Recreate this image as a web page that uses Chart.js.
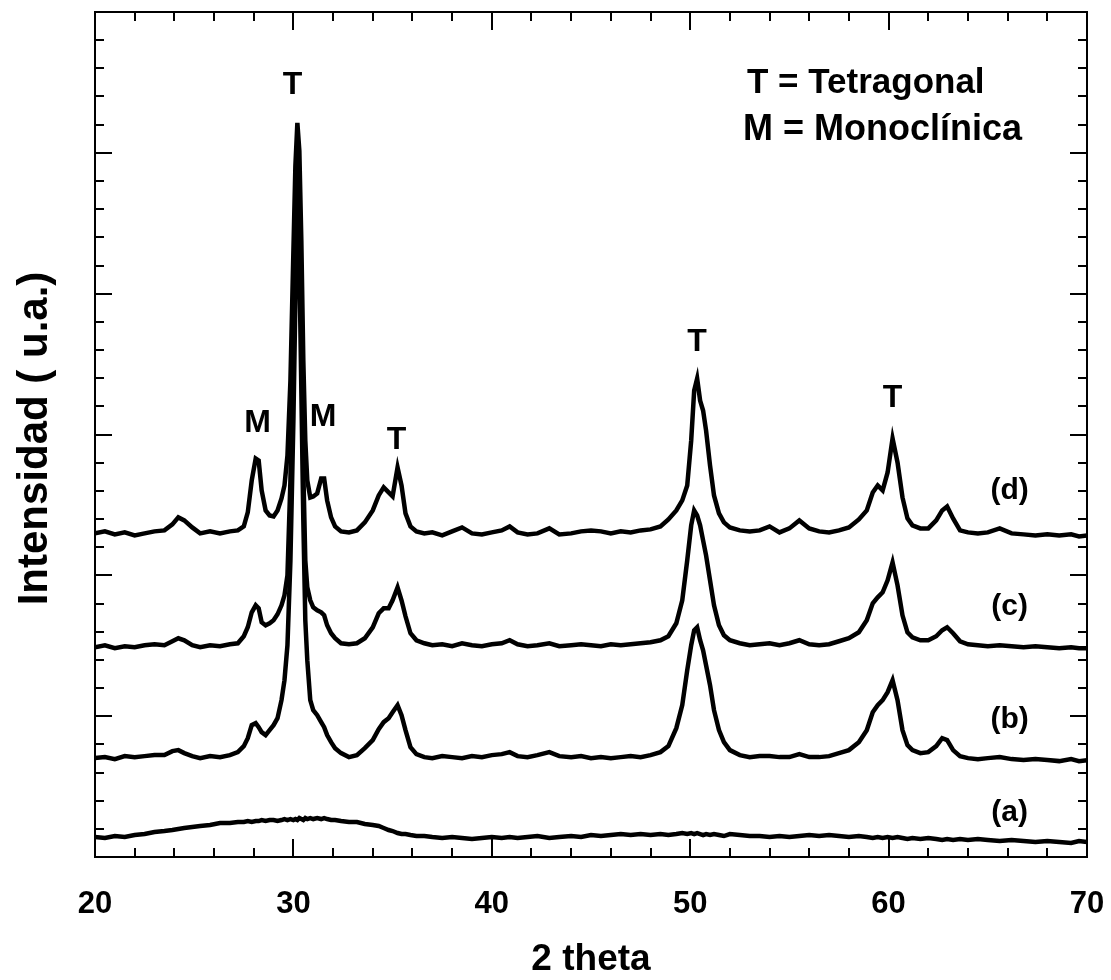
<!DOCTYPE html>
<html>
<head>
<meta charset="utf-8">
<script src="https://cdn.jsdelivr.net/npm/chart.js@4"></script>
<style>
  body { margin: 0; background: #fff; }
  canvas { display: block; }
</style>
</head>
<body>
<canvas id="xrd" width="1111" height="980"></canvas>
<script>
// 2 theta positions (degrees), shared by all four patterns
const twoTheta = [
  20, 20.5, 21, 21.5, 22, 22.5, 23, 23.5, 23.9, 24.2,
  24.5, 24.9, 25.3, 25.8, 26.3, 26.8, 27.2, 27.5, 27.7, 27.9,
  28.1, 28.25, 28.4, 28.6, 28.8, 29.0, 29.2, 29.4, 29.55, 29.7,
  29.85, 30.0, 30.1, 30.2, 30.3, 30.4, 30.5, 30.6, 30.7, 30.85,
  31.0, 31.2, 31.4, 31.55, 31.7, 31.9, 32.1, 32.4, 32.8, 33.2,
  33.6, 34.0, 34.3, 34.55, 34.8, 35.0, 35.25, 35.45, 35.65, 35.9,
  36.2, 36.6, 37.0, 37.5, 38.0, 38.5, 39.0, 39.5, 40.0, 40.5,
  40.9, 41.3, 41.8, 42.3, 42.9, 43.4, 44.0, 44.5, 45.0, 45.5,
  46.0, 46.5, 47.0, 47.5, 48.0, 48.5, 48.9, 49.3, 49.6, 49.85,
  50.05, 50.2, 50.35, 50.5, 50.65, 50.8, 51.0, 51.2, 51.45, 51.7,
  52.0, 52.5, 53.0, 53.5, 54.0, 54.5, 55.0, 55.5, 56.0, 56.5,
  57.0, 57.5, 58.0, 58.5, 58.9, 59.2, 59.45, 59.7, 59.95, 60.2,
  60.45, 60.7, 60.95, 61.2, 61.6, 62.0, 62.4, 62.7, 62.95, 63.25,
  63.6, 64.0, 64.5, 65.0, 65.6, 66.2, 66.8, 67.4, 68.0, 68.6,
  69.2, 69.6, 70.0
];

// intensities (u.a., stacked patterns)
const intensityD = [
  467, 469, 466, 468, 465, 467, 469, 470, 476, 483,
  480, 473, 467, 469, 467, 469, 470, 474, 488, 520,
  542, 540, 510, 490, 485, 484, 490, 502, 515, 545,
  620, 750, 835, 878, 850, 760, 640, 560, 520, 503,
  504, 507, 522, 522, 500, 483, 474, 469, 468, 470,
  478, 490, 505, 513, 508, 504, 533, 515, 487, 474,
  469, 467, 468, 465, 469, 473, 467, 466, 468, 470,
  474, 468, 466, 467, 472, 466, 467, 469, 470, 469,
  467, 469, 468, 470, 471, 474, 481, 490, 500, 515,
  560, 610, 622, 600, 590, 570, 535, 505, 487, 478,
  473, 470, 469, 470, 474, 468, 472, 480, 472, 469,
  468, 470, 473, 481, 490, 508, 515, 510, 528, 562,
  538, 503, 482, 475, 472, 472, 480, 490, 494, 482,
  470, 468, 467, 468, 472, 467, 466, 465, 466, 465,
  466, 464, 465
];

const intensityC = [
  353, 355, 352, 354, 353, 355, 356, 355, 359, 362,
  360, 355, 353, 355, 354, 356, 357, 364, 373, 388,
  395, 392, 378, 375, 377, 380, 386, 395, 405, 425,
  520, 680, 800, 840, 800, 670, 530, 440, 413, 400,
  393, 390, 388, 385, 375, 367, 362, 357, 356, 357,
  362, 373, 387, 392, 392, 400, 413, 400, 384, 367,
  360, 357, 355, 356, 354, 357, 355, 354, 356, 357,
  360, 356, 354, 355, 357, 354, 355, 356, 355, 354,
  356, 355, 356, 357, 358, 360, 364, 377, 400, 440,
  475, 490, 485, 475, 460, 445, 420, 395, 375, 365,
  360, 357, 355, 356, 357, 355, 357, 360, 356, 355,
  356, 359, 362, 368, 380, 397, 403, 408, 420, 438,
  415, 385, 368, 363, 360, 360, 364, 370, 373, 367,
  359, 356, 355, 354, 355, 354, 353, 354, 353, 352,
  353, 352, 352
];

const intensityB = [
  242, 243, 241, 244, 243, 244, 245, 245, 249, 250,
  247, 244, 242, 244, 243, 245, 248, 254, 262, 275,
  277, 273, 268, 265, 270, 275, 282, 300, 320, 355,
  440, 580, 700, 785, 740, 610, 480, 380, 340, 300,
  290, 285, 278, 273, 265, 258, 252, 247, 243, 245,
  252, 260, 271, 278, 282, 288, 295, 285, 270, 253,
  246, 243, 242, 244, 243, 242, 244, 243, 245, 246,
  248, 244, 243, 245, 248, 244, 243, 244, 242, 243,
  242, 243, 244, 243, 245, 248, 254, 272, 295, 330,
  355, 370, 373, 360, 350, 335, 315, 290, 270, 258,
  250, 245, 243, 244, 244, 243, 243, 246, 243, 243,
  244, 247, 250, 258, 270, 288, 295, 300, 308, 320,
  300, 270, 255, 250, 247, 248, 254, 262, 260, 250,
  244, 242, 241, 242, 243, 241, 240, 241, 240, 239,
  241, 239, 240
];

const intensityA = [
  163, 162, 164, 163, 165, 166, 168, 169, 170, 171,
  172, 173, 174, 175, 177, 177, 178, 178, 179, 178,
  179, 179, 180, 179, 180, 180, 179, 180, 181, 180,
  181, 180, 181, 180, 182, 181, 180, 182, 181, 182,
  181, 182, 181, 182, 181, 180, 180, 179, 178, 178,
  176, 175, 174, 172, 170, 169, 167, 166, 166, 165,
  164, 164, 163, 162, 163, 162, 161, 162, 163, 162,
  163, 162, 163, 164, 162, 163, 164, 163, 165, 164,
  165, 166, 165, 166, 165, 166, 165, 166, 167, 166,
  167, 166, 167, 166, 165, 166, 165, 166, 165, 164,
  166, 165, 164, 164, 163, 164, 163, 164, 165, 164,
  165, 164, 163, 164, 163, 162, 163, 162, 163, 162,
  163, 162, 161, 162, 161, 162, 161, 160, 161, 160,
  161, 160, 161, 160, 159, 160, 159, 158, 159, 158,
  157, 159, 158
];

const seriesLabels = ["(a)", "(b)", "(c)", "(d)"];
const seriesLabelPos = [[66.1, 187], [66.1, 280], [66.1, 394], [66.1, 510]];

// peak markers
const peakText = ["T", "M", "M", "T", "T", "T"];
const peakPos = [[29.95, 916], [28.2, 577], [31.5, 583], [35.2, 560], [50.35, 658], [60.2, 602]];

const legendLines = ["T = Tetragonal", "M = Monoclínica"];

const xTickLabels = [20, 30, 40, 50, 60, 70];
const xMin = 20, xMax = 70, xMinorStep = 2;
const yMin = 143, yMax = 989, yMajorStep = 141, yMinorPerMajor = 5;

const toPoints = vals => twoTheta.map((t, i) => ({ x: t, y: vals[i] }));

const FONT = '"Liberation Sans", Arial, sans-serif';

// frame, inward ticks and all the text
const framePlugin = {
  id: "frame",
  afterDraw(chart) {
    const { ctx, chartArea: { left, right, top, bottom }, scales: { x, y } } = chart;
    ctx.save();
    ctx.strokeStyle = "#000";
    ctx.lineWidth = 2;
    ctx.strokeRect(left, top, right - left, bottom - top);

    // x ticks, top and bottom
    ctx.beginPath();
    for (let v = xMin; v <= xMax; v += xMinorStep) {
      const px = Math.round(x.getPixelForValue(v));
      const len = v % 10 === 0 ? 18 : 9;
      ctx.moveTo(px, bottom); ctx.lineTo(px, bottom - len);
      ctx.moveTo(px, top); ctx.lineTo(px, top + len);
    }
    // y ticks, left and right
    const yStep = yMajorStep / yMinorPerMajor;
    for (let i = 0; yMin + i * yStep <= yMax + 0.5; i++) {
      const py = Math.round(y.getPixelForValue(yMin + i * yStep));
      const len = i % yMinorPerMajor === 0 ? 17 : 9;
      ctx.moveTo(left, py); ctx.lineTo(left + len, py);
      ctx.moveTo(right, py); ctx.lineTo(right - len, py);
    }
    ctx.stroke();

    ctx.fillStyle = "#000";
    ctx.textAlign = "center";
    ctx.textBaseline = "middle";

    ctx.font = `bold 31px ${FONT}`;
    xTickLabels.forEach(v => ctx.fillText(String(v), x.getPixelForValue(v), bottom + 47));

    ctx.font = `bold 37px ${FONT}`;
    ctx.fillText("2 theta", (left + right) / 2, bottom + 103);

    ctx.save();
    ctx.translate(35, (top + bottom) / 2 + 4);
    ctx.rotate(-Math.PI / 2);
    ctx.font = `bold 42px ${FONT}`;
    ctx.fillText("Intensidad ( u.a.)", 0, 0);
    ctx.restore();

    ctx.font = `bold 32px ${FONT}`;
    peakText.forEach((t, i) => {
      ctx.fillText(t, x.getPixelForValue(peakPos[i][0]), y.getPixelForValue(peakPos[i][1]));
    });

    ctx.font = `bold 30px ${FONT}`;
    seriesLabels.forEach((t, i) => {
      ctx.fillText(t, x.getPixelForValue(seriesLabelPos[i][0]), y.getPixelForValue(seriesLabelPos[i][1]));
    });

    ctx.textAlign = "left";
    ctx.font = `bold 35px ${FONT}`;
    ctx.fillText(legendLines[0], 747, 83);
    ctx.font = `bold 36px ${FONT}`;
    ctx.fillText(legendLines[1], 743, 130);
    ctx.restore();
  }
};

const makeSet = (label, vals) => ({
  label: label,
  data: toPoints(vals),
  borderColor: "#000",
  borderWidth: 4.5,
  pointRadius: 0,
  tension: 0,
  fill: false
});

new Chart(document.getElementById("xrd"), {
  type: "line",
  data: {
    datasets: [
      makeSet("(a)", intensityA),
      makeSet("(b)", intensityB),
      makeSet("(c)", intensityC),
      makeSet("(d)", intensityD)
    ]
  },
  options: {
    responsive: false,
    animation: false,
    layout: { padding: { left: 95, right: 24, top: 12, bottom: 123 } },
    scales: {
      x: { type: "linear", min: xMin, max: xMax, display: false },
      y: { type: "linear", min: yMin, max: yMax, display: false }
    },
    plugins: {
      legend: { display: false },
      tooltip: { enabled: false }
    }
  },
  plugins: [framePlugin]
});
</script>
</body>
</html>
